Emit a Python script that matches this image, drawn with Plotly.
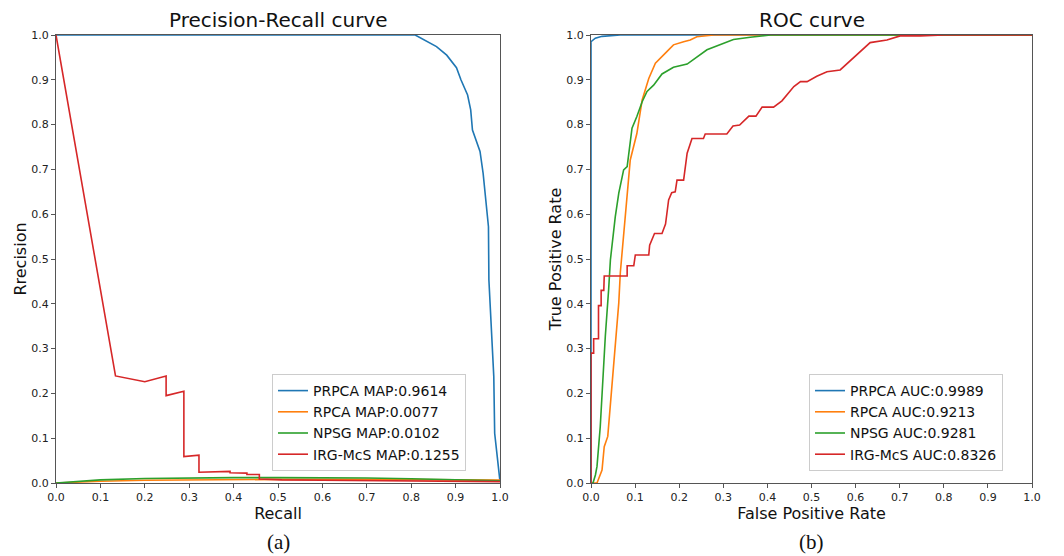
import plotly.graph_objects as go

# ---------------- Data: Precision-Recall ----------------
pr_prpca_recall = [0.0, 0.809, 0.857, 0.880, 0.902, 0.912, 0.927, 0.934, 0.938, 0.955, 0.962, 0.974, 0.975,
                   0.981, 0.983, 0.986, 0.988, 0.994, 1.0]
pr_prpca_prec = [1.0, 1.0, 0.974, 0.955, 0.927, 0.900, 0.866, 0.833, 0.788, 0.740, 0.691, 0.572, 0.453,
                 0.342, 0.282, 0.238, 0.111, 0.051, 0.003]

pr_rpca_recall = [0.0, 0.05, 0.1, 0.2, 0.3, 0.5, 0.7, 0.9, 1.0]
pr_rpca_prec = [0.0, 0.0025, 0.004, 0.006, 0.007, 0.008, 0.008, 0.0075, 0.0065]

pr_npsg_recall = [0.0, 0.05, 0.1, 0.2, 0.3, 0.4, 0.5, 0.6, 0.7, 0.8, 0.9, 1.0]
pr_npsg_prec = [0.0, 0.004, 0.007, 0.010, 0.0115, 0.012, 0.012, 0.0118, 0.011, 0.0095, 0.0075, 0.005]

pr_irg_recall = [0.0, 0.134, 0.200, 0.248, 0.248, 0.288, 0.288, 0.322, 0.322, 0.362, 0.392, 0.392,
                 0.430, 0.430, 0.458, 0.458, 0.509, 0.6, 0.8, 1.0]
pr_irg_prec = [1.0, 0.239, 0.226, 0.239, 0.195, 0.205, 0.059, 0.062, 0.024, 0.026, 0.026, 0.023,
               0.022, 0.019, 0.019, 0.009, 0.007, 0.006, 0.004, 0.003]

pr_labels = ["PRPCA MAP:0.9614", "RPCA MAP:0.0077", "NPSG MAP:0.0102", "IRG-McS MAP:0.1255"]

# ---------------- Data: ROC ----------------
roc_prpca_fpr = [0.0, 0.0, 0.0098, 0.025, 0.066, 1.0]
roc_prpca_tpr = [0.0, 0.985, 0.993, 0.997, 1.0, 1.0]

roc_rpca_fpr = [0.0, 0.0136, 0.025, 0.030, 0.038, 0.042, 0.048, 0.055, 0.063, 0.0665, 0.078, 0.089, 0.104,
                0.116, 0.131, 0.146, 0.172, 0.187, 0.210, 0.225, 0.240, 0.278, 1.0]
roc_rpca_tpr = [0.0, 0.0, 0.029, 0.081, 0.104, 0.149, 0.231, 0.298, 0.402, 0.470, 0.594, 0.721, 0.780,
                0.855, 0.903, 0.937, 0.963, 0.978, 0.985, 0.989, 0.996, 1.0, 1.0]

roc_npsg_fpr = [0.0, 0.0045, 0.010, 0.0136, 0.021, 0.025, 0.0325, 0.040, 0.044, 0.055, 0.063, 0.074, 0.082,
                0.093, 0.104, 0.116, 0.127, 0.142, 0.161, 0.187, 0.218, 0.263, 0.323, 0.361, 0.407, 1.0]
roc_npsg_tpr = [0.0, 0.0, 0.018, 0.037, 0.126, 0.208, 0.328, 0.432, 0.498, 0.594, 0.647, 0.699, 0.706,
                0.792, 0.818, 0.851, 0.874, 0.888, 0.913, 0.928, 0.935, 0.967, 0.990, 0.995, 1.0, 1.0]

roc_irg_fpr = [0.0, 0.0, 0.006, 0.006, 0.017, 0.017, 0.023, 0.023, 0.029, 0.030, 0.082, 0.082, 0.097,
               0.1005, 0.131, 0.133, 0.144, 0.161, 0.169, 0.176, 0.183, 0.191, 0.195, 0.210, 0.218, 0.229,
               0.255, 0.259, 0.308, 0.322, 0.337, 0.358, 0.374, 0.388, 0.414, 0.433, 0.460, 0.475, 0.490,
               0.512, 0.535, 0.565, 0.633, 0.671, 0.701, 0.747, 0.800, 1.0]
roc_irg_tpr = [0.0, 0.290, 0.290, 0.322, 0.322, 0.396, 0.396, 0.430, 0.430, 0.462, 0.462, 0.485, 0.485,
               0.509, 0.509, 0.531, 0.557, 0.557, 0.578, 0.632, 0.648, 0.650, 0.676, 0.676, 0.736, 0.769,
               0.769, 0.779, 0.779, 0.797, 0.799, 0.819, 0.819, 0.839, 0.839, 0.853, 0.885, 0.896, 0.896,
               0.908, 0.918, 0.922, 0.983, 0.989, 0.998, 0.998, 1.0, 1.0]

roc_labels = ["PRPCA AUC:0.9989", "RPCA AUC:0.9213", "NPSG AUC:0.9281", "IRG-McS AUC:0.8326"]

colors = ["#1f77b4", "#ff7f0e", "#2ca02c", "#d62728"]
tick_vals = [0.0, 0.1, 0.2, 0.3, 0.4, 0.5, 0.6, 0.7, 0.8, 0.9, 1.0]
tick_text = ["0.0", "0.1", "0.2", "0.3", "0.4", "0.5", "0.6", "0.7", "0.8", "0.9", "1.0"]

FONT = "DejaVu Sans"
fig = go.Figure()

pr_series = [(pr_prpca_recall, pr_prpca_prec), (pr_rpca_recall, pr_rpca_prec),
             (pr_npsg_recall, pr_npsg_prec), (pr_irg_recall, pr_irg_prec)]
roc_series = [(roc_prpca_fpr, roc_prpca_tpr), (roc_rpca_fpr, roc_rpca_tpr),
              (roc_npsg_fpr, roc_npsg_tpr), (roc_irg_fpr, roc_irg_tpr)]

for (x, y), name, c in zip(pr_series, pr_labels, colors):
    fig.add_trace(go.Scatter(x=x, y=y, mode="lines", name=name, line=dict(color=c, width=1.6),
                             xaxis="x", yaxis="y", legend="legend"))
for (x, y), name, c in zip(roc_series, roc_labels, colors):
    fig.add_trace(go.Scatter(x=x, y=y, mode="lines", name=name, line=dict(color=c, width=1.6),
                             xaxis="x2", yaxis="y2", legend="legend2"))

W, H = 1064, 556
L, R, T, B = 56, 32, 35, 73
pw = W - L - R
left_dom = [0.0, 444 / pw]
right_dom = [(591 - L) / pw, 1.0]

axis_common = dict(range=[0, 1], tickvals=tick_vals, ticktext=tick_text, showgrid=False, zeroline=False,
                   showline=True, linecolor="#555555", linewidth=1.2, mirror=True, ticks="outside",
                   ticklen=4, tickcolor="#555555", tickfont=dict(family=FONT, size=11, color="#222222"))

legend_common = dict(font=dict(family=FONT, size=14, color="#111111"), bgcolor="white",
                     bordercolor="#cccccc", borderwidth=1, xanchor="right", yanchor="bottom",
                     tracegroupgap=0, itemwidth=30)

fig.update_layout(
    width=W, height=H, margin=dict(l=L, r=R, t=T, b=B),
    paper_bgcolor="white", plot_bgcolor="white",
    font=dict(family=FONT),
    xaxis=dict(domain=left_dom, anchor="y",
               title=dict(text="Recall", font=dict(family=FONT, size=16, color="#111111"), standoff=3),
               **axis_common),
    yaxis=dict(domain=[0, 1], anchor="x",
               title=dict(text="Rrecision", font=dict(family=FONT, size=16, color="#111111"), standoff=0),
               **axis_common),
    xaxis2=dict(domain=right_dom, anchor="y2",
                title=dict(text="False Positive Rate", font=dict(family=FONT, size=16, color="#111111"), standoff=3),
                **axis_common),
    yaxis2=dict(domain=[0, 1], anchor="x2",
                title=dict(text="True Positive Rate", font=dict(family=FONT, size=16, color="#111111"), standoff=0),
                **axis_common),
    legend=dict(x=(466 - L) / pw, y=(483 - 471) / 448, **legend_common),
    legend2=dict(x=(1003 - L) / pw, y=(483 - 471) / 448, **legend_common),
    showlegend=True,
)

left_c = (left_dom[0] + left_dom[1]) / 2
right_c = (right_dom[0] + right_dom[1]) / 2
fig.add_annotation(text="Precision-Recall curve", x=left_c, y=(483 - 20) / 448, xref="paper", yref="paper",
                   showarrow=False, xanchor="center", yanchor="middle",
                   font=dict(family=FONT, size=20, color="#111111"))
fig.add_annotation(text="ROC curve", x=right_c, y=(483 - 20) / 448, xref="paper", yref="paper",
                   showarrow=False, xanchor="center", yanchor="middle",
                   font=dict(family=FONT, size=20, color="#111111"))
fig.add_annotation(text="(a)", x=left_c, y=(483 - 542) / 448, xref="paper", yref="paper",
                   showarrow=False, xanchor="center", yanchor="middle",
                   font=dict(family="Liberation Serif", size=21, color="#111111"))
fig.add_annotation(text="(b)", x=right_c, y=(483 - 542) / 448, xref="paper", yref="paper",
                   showarrow=False, xanchor="center", yanchor="middle",
                   font=dict(family="Liberation Serif", size=21, color="#111111"))

fig.write_html("out.html")
